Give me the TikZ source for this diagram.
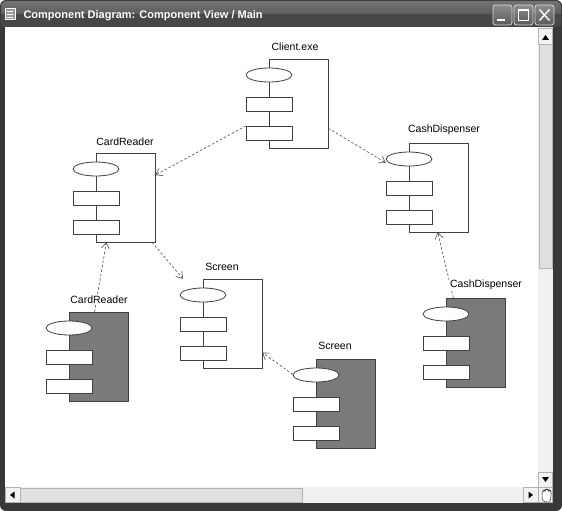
\documentclass[tikz,border=0pt]{standalone}
\usepackage{fontspec}
\setmainfont{Liberation Sans}
\usetikzlibrary{arrows.meta}

\tikzstyle{body} = [draw=black!75, line width=0.8pt]
\tikzstyle{dep} = [draw=black!70, line width=0.6pt, dash pattern=on 2.5pt off 2pt, -{Straight Barb[length=6pt,width=8pt]}]
\tikzstyle{lbl} = [fill=white, inner sep=1pt, font=\fontsize{10.5}{12}\selectfont]
\tikzstyle{btn} = [draw=white!85!black, line width=0.8pt, rounded corners=2.5pt, top color=black!45, bottom color=black!65]
\tikzstyle{sbtn} = [draw=black!30, fill=black!5, line width=0.5pt]

% component: name, left edge x, top y, body colour
\newcommand{\umlcomp}[4]{%
  \begin{scope}[shift={(#2,#3)}]
    \draw[body, fill=#4] (0,0) rectangle (59,89);
    \draw[body, fill=white] (0,16) ellipse [x radius=23, y radius=7];
    \draw[body, fill=white] (-23,38) rectangle (23,52);
    \draw[body, fill=white] (-23,67) rectangle (23,81);
    \node[inner sep=0pt, minimum width=82pt, minimum height=89pt] (#1) at (18,44.5) {};
  \end{scope}}

\begin{document}
\begin{tikzpicture}[x=1pt, y=-1pt]
  \useasboundingbox (0,0) rectangle (562,511);

  % window frame
  \fill[black!78, rounded corners=6pt] (0,0) rectangle (562,511);
  \shade[top color=black!55, bottom color=black!72, rounded corners=6pt] (1,1) rectangle (561,27);
  \fill[black!72] (1,14) rectangle (561,27);
  \fill[white] (5,27) rectangle (538,487);

  % title bar
  \draw[white, fill=black!40, line width=0.6pt] (5,8) rectangle (15,19);
  \draw[white, line width=0.6pt] (7,11) -- (13,11) (7,14) -- (13,14) (7,17) -- (13,17);
  \node[anchor=west, text=white, font=\bfseries\fontsize{11}{13}\selectfont] (title) at (20,15.5) {Component Diagram: Component View / Main};
  \draw[btn] (493,5) rectangle (512,25);
  \fill[white] (497,19) rectangle (505,21.5);
  \draw[btn] (514,5) rectangle (533,25);
  \draw[white, line width=0.8pt] (518.5,9.5) rectangle (528.5,20.5);
  \draw[white, line width=1.6pt] (518.5,10) -- (528.5,10);
  \draw[btn] (535,5) rectangle (554,25);
  \draw[white, line width=1.4pt] (539.5,9.5) -- (549.5,20.5) (549.5,9.5) -- (539.5,20.5);

  % scroll bars
  \fill[black!6] (538,27) rectangle (553,503);
  \fill[black!6] (5,487) rectangle (538,503);
  \draw[sbtn, fill=black!12] (539.5,44) rectangle (552,268);
  \draw[sbtn] (538.5,28) rectangle (552.5,44);
  \fill[black] (542,40) -- (549,40) -- (545.5,35) -- cycle;
  \draw[sbtn] (538.5,472) rectangle (552.5,487);
  \fill[black] (542,477) -- (549,477) -- (545.5,482) -- cycle;
  \draw[sbtn, fill=black!12] (20,488.5) rectangle (302,502);
  \draw[sbtn] (5.5,487.5) rectangle (20,502.5);
  \fill[black] (14.5,491.5) -- (14.5,498.5) -- (10,495) -- cycle;
  \draw[sbtn] (523,487.5) rectangle (538,502.5);
  \fill[black] (528.5,491.5) -- (528.5,498.5) -- (533,495) -- cycle;
  \draw[sbtn] (538.5,487.5) rectangle (552.5,502.5);
  \draw[black!80, fill=white, line width=0.5pt, rounded corners=1.5pt]
    (542,492) -- (542,500) -- (545,502) -- (550,502) -- (551,496) -- (551,491)
    -- (549.5,490) -- (548.5,491) -- (547.5,489) -- (546,489) -- (545,491) -- (544,490) -- cycle;

  % components
  \umlcomp{client}{269}{59}{white}
  \umlcomp{readerA}{96}{153}{white}
  \umlcomp{cashA}{409}{143}{white}
  \umlcomp{screenA}{203}{279}{white}
  \umlcomp{readerB}{69}{312}{black!52}
  \umlcomp{cashB}{446}{298}{black!52}
  \umlcomp{screenB}{316}{359}{black!52}

  % dependencies
  \path[dep] (client) -- (readerA);
  \path[dep] (client) -- (cashA);
  \path[dep] (readerA) -- (screenA);
  \path[dep] (readerB) -- (readerA);
  \path[dep] (cashB) -- (cashA);
  \path[dep] (screenB) -- (screenA);

  % labels
  \node[lbl] (clientLbl) at (295,47) {Client.exe};
  \node[lbl] (readerALbl) at (125,142) {CardReader};
  \node[lbl] (cashALbl) at (444,130) {CashDispenser};
  \node[lbl] (screenALbl) at (222,267) {Screen};
  \node[lbl] (readerBLbl) at (99,300) {CardReader};
  \node[lbl] (cashBLbl) at (486,285) {CashDispenser};
  \node[lbl] (screenBLbl) at (335,346) {Screen};
\end{tikzpicture}
\end{document}
